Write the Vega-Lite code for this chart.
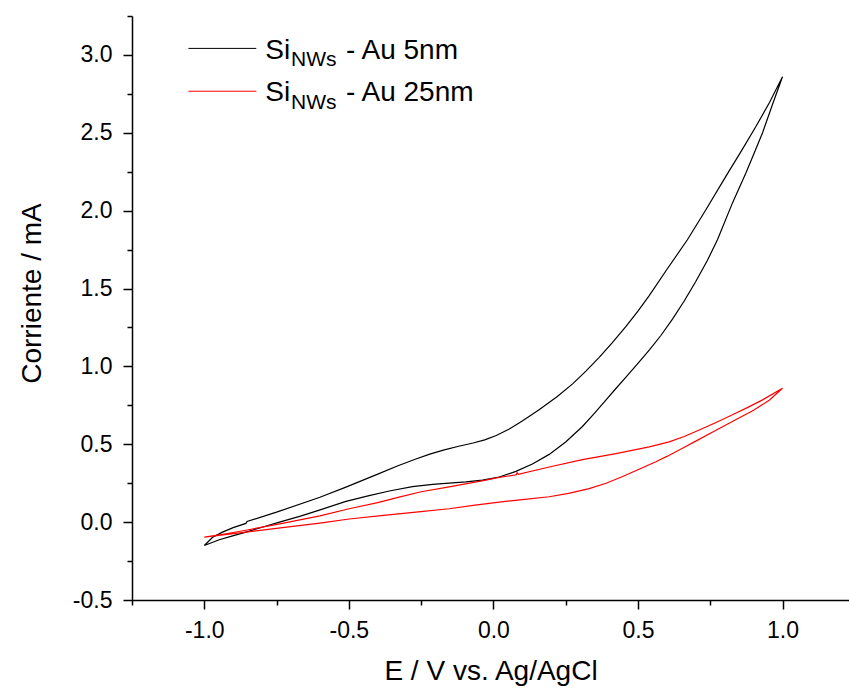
{
  "$schema": "https://vega.github.io/schema/vega-lite/v6.json",
  "width": 717,
  "height": 584,
  "autosize": {"type": "none"},
  "padding": {"left": 132, "top": 16, "right": 0, "bottom": 90},
  "background": "white",
  "config": {"view": {"stroke": null}, "font": "Liberation Sans"},
  "datasets": {
    "cv": [
      {"s": "Au 5nm", "o": 1, "E": -1.0, "I": -0.15},
      {"s": "Au 5nm", "o": 2, "E": -0.971, "I": -0.097},
      {"s": "Au 5nm", "o": 3, "E": -0.937, "I": -0.064},
      {"s": "Au 5nm", "o": 4, "E": -0.9, "I": -0.035},
      {"s": "Au 5nm", "o": 5, "E": -0.856, "I": -0.008},
      {"s": "Au 5nm", "o": 6, "E": -0.852, "I": 0.004},
      {"s": "Au 5nm", "o": 7, "E": -0.75, "I": 0.064},
      {"s": "Au 5nm", "o": 8, "E": -0.6, "I": 0.16},
      {"s": "Au 5nm", "o": 9, "E": -0.51, "I": 0.225},
      {"s": "Au 5nm", "o": 10, "E": -0.4, "I": 0.308},
      {"s": "Au 5nm", "o": 11, "E": -0.33, "I": 0.362},
      {"s": "Au 5nm", "o": 12, "E": -0.268, "I": 0.405},
      {"s": "Au 5nm", "o": 13, "E": -0.22, "I": 0.437},
      {"s": "Au 5nm", "o": 14, "E": -0.17, "I": 0.464},
      {"s": "Au 5nm", "o": 15, "E": -0.12, "I": 0.487},
      {"s": "Au 5nm", "o": 16, "E": -0.07, "I": 0.508},
      {"s": "Au 5nm", "o": 17, "E": -0.03, "I": 0.528},
      {"s": "Au 5nm", "o": 18, "E": 0.01, "I": 0.556},
      {"s": "Au 5nm", "o": 19, "E": 0.055, "I": 0.598},
      {"s": "Au 5nm", "o": 20, "E": 0.1, "I": 0.65},
      {"s": "Au 5nm", "o": 21, "E": 0.158, "I": 0.722},
      {"s": "Au 5nm", "o": 22, "E": 0.22, "I": 0.805},
      {"s": "Au 5nm", "o": 23, "E": 0.274, "I": 0.888},
      {"s": "Au 5nm", "o": 24, "E": 0.32, "I": 0.97},
      {"s": "Au 5nm", "o": 25, "E": 0.366, "I": 1.058},
      {"s": "Au 5nm", "o": 26, "E": 0.41, "I": 1.15},
      {"s": "Au 5nm", "o": 27, "E": 0.458, "I": 1.255},
      {"s": "Au 5nm", "o": 28, "E": 0.5, "I": 1.355},
      {"s": "Au 5nm", "o": 29, "E": 0.539, "I": 1.455},
      {"s": "Au 5nm", "o": 30, "E": 0.6, "I": 1.622},
      {"s": "Au 5nm", "o": 31, "E": 0.671, "I": 1.813},
      {"s": "Au 5nm", "o": 32, "E": 0.735, "I": 2.006},
      {"s": "Au 5nm", "o": 33, "E": 0.804, "I": 2.22},
      {"s": "Au 5nm", "o": 34, "E": 0.86, "I": 2.39},
      {"s": "Au 5nm", "o": 35, "E": 0.908, "I": 2.54},
      {"s": "Au 5nm", "o": 36, "E": 0.955, "I": 2.695},
      {"s": "Au 5nm", "o": 37, "E": 1.0, "I": 2.86},
      {"s": "Au 5nm", "o": 38, "E": 0.965, "I": 2.68},
      {"s": "Au 5nm", "o": 39, "E": 0.931, "I": 2.5},
      {"s": "Au 5nm", "o": 40, "E": 0.9, "I": 2.36},
      {"s": "Au 5nm", "o": 41, "E": 0.873, "I": 2.24},
      {"s": "Au 5nm", "o": 42, "E": 0.827, "I": 2.05},
      {"s": "Au 5nm", "o": 43, "E": 0.775, "I": 1.813},
      {"s": "Au 5nm", "o": 44, "E": 0.74, "I": 1.68},
      {"s": "Au 5nm", "o": 45, "E": 0.7, "I": 1.545},
      {"s": "Au 5nm", "o": 46, "E": 0.66, "I": 1.42},
      {"s": "Au 5nm", "o": 47, "E": 0.62, "I": 1.305},
      {"s": "Au 5nm", "o": 48, "E": 0.58, "I": 1.2},
      {"s": "Au 5nm", "o": 49, "E": 0.539, "I": 1.105},
      {"s": "Au 5nm", "o": 50, "E": 0.5, "I": 1.02},
      {"s": "Au 5nm", "o": 51, "E": 0.46, "I": 0.935},
      {"s": "Au 5nm", "o": 52, "E": 0.42, "I": 0.85},
      {"s": "Au 5nm", "o": 53, "E": 0.389, "I": 0.783},
      {"s": "Au 5nm", "o": 54, "E": 0.35, "I": 0.7},
      {"s": "Au 5nm", "o": 55, "E": 0.308, "I": 0.614},
      {"s": "Au 5nm", "o": 56, "E": 0.25, "I": 0.515},
      {"s": "Au 5nm", "o": 57, "E": 0.193, "I": 0.435},
      {"s": "Au 5nm", "o": 58, "E": 0.135, "I": 0.373},
      {"s": "Au 5nm", "o": 59, "E": 0.078, "I": 0.326},
      {"s": "Au 5nm", "o": 60, "E": 0.02, "I": 0.29},
      {"s": "Au 5nm", "o": 61, "E": -0.038, "I": 0.27},
      {"s": "Au 5nm", "o": 62, "E": -0.095, "I": 0.258},
      {"s": "Au 5nm", "o": 63, "E": -0.153, "I": 0.251},
      {"s": "Au 5nm", "o": 64, "E": -0.21, "I": 0.243},
      {"s": "Au 5nm", "o": 65, "E": -0.28, "I": 0.228},
      {"s": "Au 5nm", "o": 66, "E": -0.36, "I": 0.2},
      {"s": "Au 5nm", "o": 67, "E": -0.43, "I": 0.17},
      {"s": "Au 5nm", "o": 68, "E": -0.51, "I": 0.133},
      {"s": "Au 5nm", "o": 69, "E": -0.602, "I": 0.077},
      {"s": "Au 5nm", "o": 70, "E": -0.67, "I": 0.037},
      {"s": "Au 5nm", "o": 71, "E": -0.74, "I": 0.0},
      {"s": "Au 5nm", "o": 72, "E": -0.8, "I": -0.033},
      {"s": "Au 5nm", "o": 73, "E": -0.856, "I": -0.064},
      {"s": "Au 5nm", "o": 74, "E": -0.905, "I": -0.09},
      {"s": "Au 5nm", "o": 75, "E": -0.948, "I": -0.113},
      {"s": "Au 5nm", "o": 76, "E": -1.0, "I": -0.15},
      {"s": "Au 25nm", "o": 1, "E": -1.0, "I": -0.096},
      {"s": "Au 25nm", "o": 2, "E": -0.93, "I": -0.076},
      {"s": "Au 25nm", "o": 3, "E": -0.856, "I": -0.052},
      {"s": "Au 25nm", "o": 4, "E": -0.73, "I": -0.008},
      {"s": "Au 25nm", "o": 5, "E": -0.6, "I": 0.04},
      {"s": "Au 25nm", "o": 6, "E": -0.499, "I": 0.086},
      {"s": "Au 25nm", "o": 7, "E": -0.4, "I": 0.125},
      {"s": "Au 25nm", "o": 8, "E": -0.326, "I": 0.161},
      {"s": "Au 25nm", "o": 9, "E": -0.25, "I": 0.195},
      {"s": "Au 25nm", "o": 10, "E": -0.153, "I": 0.226},
      {"s": "Au 25nm", "o": 11, "E": -0.04, "I": 0.265},
      {"s": "Au 25nm", "o": 12, "E": 0.02, "I": 0.287},
      {"s": "Au 25nm", "o": 13, "E": 0.079, "I": 0.304},
      {"s": "Au 25nm", "o": 14, "E": 0.082, "I": 0.317},
      {"s": "Au 25nm", "o": 15, "E": 0.086, "I": 0.307},
      {"s": "Au 25nm", "o": 16, "E": 0.193, "I": 0.354},
      {"s": "Au 25nm", "o": 17, "E": 0.308, "I": 0.401},
      {"s": "Au 25nm", "o": 18, "E": 0.424, "I": 0.44},
      {"s": "Au 25nm", "o": 19, "E": 0.539, "I": 0.483},
      {"s": "Au 25nm", "o": 20, "E": 0.608, "I": 0.515},
      {"s": "Au 25nm", "o": 21, "E": 0.66, "I": 0.55},
      {"s": "Au 25nm", "o": 22, "E": 0.712, "I": 0.592},
      {"s": "Au 25nm", "o": 23, "E": 0.77, "I": 0.64},
      {"s": "Au 25nm", "o": 24, "E": 0.827, "I": 0.69},
      {"s": "Au 25nm", "o": 25, "E": 0.88, "I": 0.737},
      {"s": "Au 25nm", "o": 26, "E": 0.931, "I": 0.785},
      {"s": "Au 25nm", "o": 27, "E": 1.0, "I": 0.86},
      {"s": "Au 25nm", "o": 28, "E": 0.954, "I": 0.783},
      {"s": "Au 25nm", "o": 29, "E": 0.9, "I": 0.718},
      {"s": "Au 25nm", "o": 30, "E": 0.82, "I": 0.64},
      {"s": "Au 25nm", "o": 31, "E": 0.77, "I": 0.59},
      {"s": "Au 25nm", "o": 32, "E": 0.7, "I": 0.52},
      {"s": "Au 25nm", "o": 33, "E": 0.654, "I": 0.475},
      {"s": "Au 25nm", "o": 34, "E": 0.6, "I": 0.422},
      {"s": "Au 25nm", "o": 35, "E": 0.562, "I": 0.388},
      {"s": "Au 25nm", "o": 36, "E": 0.5, "I": 0.336},
      {"s": "Au 25nm", "o": 37, "E": 0.447, "I": 0.293},
      {"s": "Au 25nm", "o": 38, "E": 0.39, "I": 0.25},
      {"s": "Au 25nm", "o": 39, "E": 0.331, "I": 0.215},
      {"s": "Au 25nm", "o": 40, "E": 0.26, "I": 0.185},
      {"s": "Au 25nm", "o": 41, "E": 0.193, "I": 0.163},
      {"s": "Au 25nm", "o": 42, "E": 0.1, "I": 0.145},
      {"s": "Au 25nm", "o": 43, "E": 0.02, "I": 0.129},
      {"s": "Au 25nm", "o": 44, "E": -0.07, "I": 0.108},
      {"s": "Au 25nm", "o": 45, "E": -0.153, "I": 0.086},
      {"s": "Au 25nm", "o": 46, "E": -0.268, "I": 0.064},
      {"s": "Au 25nm", "o": 47, "E": -0.38, "I": 0.043},
      {"s": "Au 25nm", "o": 48, "E": -0.499, "I": 0.02},
      {"s": "Au 25nm", "o": 49, "E": -0.6, "I": -0.006},
      {"s": "Au 25nm", "o": 50, "E": -0.73, "I": -0.035},
      {"s": "Au 25nm", "o": 51, "E": -0.856, "I": -0.064},
      {"s": "Au 25nm", "o": 52, "E": -0.95, "I": -0.086},
      {"s": "Au 25nm", "o": 53, "E": -1.0, "I": -0.096}
    ]
  },
  "resolve": {"axis": {"x": "independent", "y": "independent"}},
  "layer": [
    {
      "data": {"name": "cv"},
      "transform": [{"filter": "datum.s === 'Au 5nm'"}],
      "mark": {"type": "line", "color": "#000000", "strokeWidth": 1.2},
      "encoding": {
        "x": {
          "field": "E", "type": "quantitative",
          "scale": {"domain": [-1.25, 1.23], "nice": false, "zero": false},
          "axis": {
            "orient": "bottom",
            "values": [-1, -0.5, 0, 0.5, 1],
            "labelExpr": "datum.value < 0 ? '-' + format(-datum.value, '.1f') : format(datum.value, '.1f')",
            "tickSize": 9, "tickWidth": 1.5, "tickColor": "#000000",
            "domainColor": "#000000", "domainWidth": 1.5,
            "grid": false,
            "labelFont": "Liberation Sans", "labelFontSize": 23, "labelColor": "#000000",
            "labelPadding": 10, "labelFlush": false, "labelOverlap": false,
            "title": "E / V vs. Ag/AgCl",
            "titleFont": "Liberation Sans", "titleFontSize": 28, "titleFontWeight": "normal",
            "titleColor": "#000000", "titlePadding": 15
          }
        },
        "y": {
          "field": "I", "type": "quantitative",
          "scale": {"domain": [-0.5, 3.25], "nice": false, "zero": false},
          "axis": {
            "orient": "left",
            "values": [-0.5, 0, 0.5, 1, 1.5, 2, 2.5, 3],
            "labelExpr": "datum.value < 0 ? '-' + format(-datum.value, '.1f') : format(datum.value, '.1f')",
            "tickSize": 9, "tickWidth": 1.5, "tickColor": "#000000",
            "domainColor": "#000000", "domainWidth": 1.5,
            "grid": false,
            "labelFont": "Liberation Sans", "labelFontSize": 23, "labelColor": "#000000",
            "labelPadding": 11, "labelFlush": false, "labelOverlap": false,
            "title": "Corriente / mA",
            "titleFont": "Liberation Sans", "titleFontSize": 28, "titleFontWeight": "normal",
            "titleColor": "#000000", "titlePadding": 26, "titleY": 277
          }
        },
        "order": {"field": "o", "type": "quantitative"}
      }
    },
    {
      "data": {"name": "cv"},
      "transform": [{"filter": "datum.s === 'Au 25nm'"}],
      "mark": {"type": "line", "color": "#ff0000", "strokeWidth": 1.2},
      "encoding": {
        "x": {
          "field": "E", "type": "quantitative",
          "scale": {"domain": [-1.25, 1.23], "nice": false, "zero": false},
          "axis": {
            "orient": "bottom",
            "values": [-1.25, -0.75, -0.25, 0.25, 0.75],
            "labels": false, "domain": false, "grid": false,
            "tickSize": 5, "tickWidth": 1.5, "tickColor": "#000000",
            "title": null
          }
        },
        "y": {
          "field": "I", "type": "quantitative",
          "scale": {"domain": [-0.5, 3.25], "nice": false, "zero": false},
          "axis": {
            "orient": "left",
            "values": [-0.25, 0.25, 0.75, 1.25, 1.75, 2.25, 2.75, 3.25],
            "labels": false, "domain": false, "grid": false,
            "tickSize": 5, "tickWidth": 1.5, "tickColor": "#000000",
            "title": null
          }
        },
        "order": {"field": "o", "type": "quantitative"}
      }
    },
    {
      "data": {"values": [{"k": 1}]},
      "mark": {"type": "rule", "color": "#000000", "strokeWidth": 1},
      "encoding": {
        "x": {"datum": -1.055, "type": "quantitative", "axis": null},
        "x2": {"datum": -0.82},
        "y": {"datum": 3.042, "type": "quantitative", "axis": null}
      }
    },
    {
      "data": {"values": [{"k": 1}]},
      "mark": {"type": "rule", "color": "#ff0000", "strokeWidth": 1},
      "encoding": {
        "x": {"datum": -1.055, "type": "quantitative", "axis": null},
        "x2": {"datum": -0.82},
        "y": {"datum": 2.767, "type": "quantitative", "axis": null}
      }
    },
    {
      "data": {"values": [{"t": "Si"}]},
      "mark": {"type": "text", "align": "left", "baseline": "alphabetic", "font": "Liberation Sans", "fontSize": 28, "color": "#000000"},
      "encoding": {
        "x": {"datum": -0.789, "type": "quantitative", "axis": null},
        "y": {"datum": 2.976, "type": "quantitative", "axis": null},
        "text": {"field": "t"}
      }
    },
    {
      "data": {"values": [{"t": "NWs"}]},
      "mark": {"type": "text", "align": "left", "baseline": "alphabetic", "font": "Liberation Sans", "fontSize": 21, "color": "#000000"},
      "encoding": {
        "x": {"datum": -0.7, "type": "quantitative", "axis": null},
        "y": {"datum": 2.928, "type": "quantitative", "axis": null},
        "text": {"field": "t"}
      }
    },
    {
      "data": {"values": [{"t": "- Au 5nm"}]},
      "mark": {"type": "text", "align": "left", "baseline": "alphabetic", "font": "Liberation Sans", "fontSize": 28, "color": "#000000"},
      "encoding": {
        "x": {"datum": -0.51, "type": "quantitative", "axis": null},
        "y": {"datum": 2.976, "type": "quantitative", "axis": null},
        "text": {"field": "t"}
      }
    },
    {
      "data": {"values": [{"t": "Si"}]},
      "mark": {"type": "text", "align": "left", "baseline": "alphabetic", "font": "Liberation Sans", "fontSize": 28, "color": "#000000"},
      "encoding": {
        "x": {"datum": -0.789, "type": "quantitative", "axis": null},
        "y": {"datum": 2.701, "type": "quantitative", "axis": null},
        "text": {"field": "t"}
      }
    },
    {
      "data": {"values": [{"t": "NWs"}]},
      "mark": {"type": "text", "align": "left", "baseline": "alphabetic", "font": "Liberation Sans", "fontSize": 21, "color": "#000000"},
      "encoding": {
        "x": {"datum": -0.7, "type": "quantitative", "axis": null},
        "y": {"datum": 2.653, "type": "quantitative", "axis": null},
        "text": {"field": "t"}
      }
    },
    {
      "data": {"values": [{"t": "- Au 25nm"}]},
      "mark": {"type": "text", "align": "left", "baseline": "alphabetic", "font": "Liberation Sans", "fontSize": 28, "color": "#000000"},
      "encoding": {
        "x": {"datum": -0.51, "type": "quantitative", "axis": null},
        "y": {"datum": 2.701, "type": "quantitative", "axis": null},
        "text": {"field": "t"}
      }
    }
  ]
}
